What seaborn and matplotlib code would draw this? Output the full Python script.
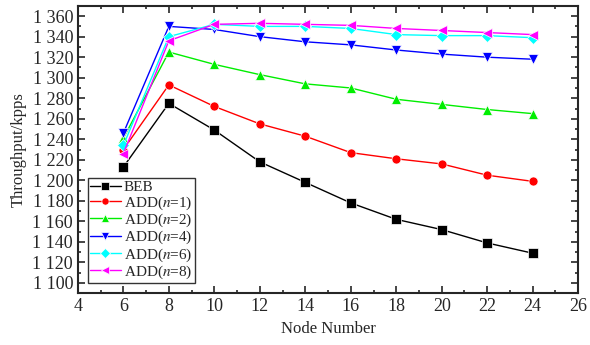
import pandas as pd
import matplotlib.pyplot as plt
import seaborn as sns
from matplotlib.ticker import MultipleLocator, FuncFormatter


nodes = [6, 8, 10, 12, 14, 16, 18, 20, 22, 24]

beb = [1213, 1275, 1249, 1218, 1198, 1178, 1162, 1152, 1139, 1129]
add_n1 = [1230, 1293, 1272, 1255, 1243, 1227, 1221, 1216, 1205, 1199]
add_n2 = [1241, 1325, 1313, 1303, 1294, 1290, 1279, 1274, 1269, 1265]
add_n4 = [1246, 1350, 1347, 1340, 1335, 1332, 1327, 1323, 1320, 1318]
add_n6 = [1234, 1340, 1352, 1350, 1350, 1348, 1342, 1341, 1341, 1339]
add_n8 = [1226, 1336, 1352, 1353, 1352, 1351, 1348, 1346, 1344, 1342]

series_names = ['BEB', 'ADD($n$=1)', 'ADD($n$=2)', 'ADD($n$=4)', 'ADD($n$=6)', 'ADD($n$=8)']
series_values = [beb, add_n1, add_n2, add_n4, add_n6, add_n8]
colors = ['black', 'red', '#00ee00', 'blue', 'cyan', 'magenta']
markers = ['s', 'o', '^', 'v', 'D', '<']

# long form table for seaborn
rows = []
for name, vals in zip(series_names, series_values):
    for x, y in zip(nodes, vals):
        rows.append({'Node Number': x, 'Throughput': y, 'Scheme': name})
df = pd.DataFrame(rows)

sns.set_style('ticks')
plt.rcParams['font.family'] = ['Liberation Serif', 'DejaVu Serif']
plt.rcParams['mathtext.fontset'] = 'stix'

fig = plt.figure(figsize=(5.9, 3.45), dpi=100)
ax = fig.add_axes([0.132, 0.15, 0.848, 0.833])

sns.lineplot(data=df, x='Node Number', y='Throughput', hue='Scheme', style='Scheme',
             palette=colors, markers=markers, dashes=False, markersize=6.5,
             markeredgewidth=0.5, linewidth=1, ax=ax)

ax.set_xlim(4, 26)
ax.set_ylim(1090, 1370)
ax.xaxis.set_major_locator(MultipleLocator(2))
ax.xaxis.set_minor_locator(MultipleLocator(1))
ax.yaxis.set_major_locator(MultipleLocator(20))
ax.yaxis.set_minor_locator(MultipleLocator(10))
ax.yaxis.set_major_formatter(FuncFormatter(lambda v, p: '{:,}'.format(int(v)).replace(',', ' ')))

ax.tick_params(which='both', direction='in', top=True, right=True, labelsize=13, width=1.2)
ax.tick_params(which='major', length=5)
ax.tick_params(which='minor', length=2.5)
for s in ax.spines.values():
    s.set_linewidth(1.5)

ax.set_xlabel('Node Number', fontsize=12)
ax.set_ylabel('Throughput/kpps', fontsize=12)

leg = ax.legend(loc='lower left', bbox_to_anchor=(0.02, 0.035), borderaxespad=0,
                fontsize=11, fancybox=False, frameon=True, handlelength=2.0,
                handletextpad=0.2, labelspacing=0.0, borderpad=0.15, markerscale=0.8)
leg.get_frame().set_edgecolor('black')
leg.get_frame().set_linewidth(1)

fig.savefig('out.png', dpi=100)
